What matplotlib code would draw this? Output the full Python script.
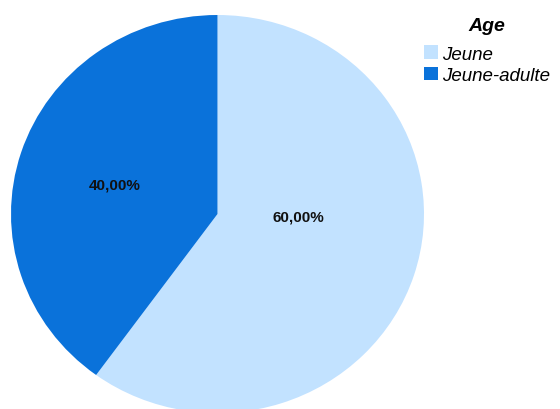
import matplotlib.pyplot as plt

# Share of each age group
categories = ["Jeune", "Jeune-adulte"]
shares = [60.0, 40.0]
colors = ["#C2E2FF", "#0A72DA"]

plt.rcParams["font.family"] = ["Liberation Sans", "DejaVu Sans"]

fig = plt.figure(figsize=(5.6, 4.1), dpi=100)
# slightly squashed pie, bottom runs just past the figure edge
ax = fig.add_axes([11 / 560, -4 / 410, 413 / 560, 398 / 410])

wedges, _ = ax.pie(shares, colors=colors, startangle=90, counterclock=False,
                   radius=1.0, wedgeprops=dict(linewidth=0))
ax.set_aspect("auto")
ax.set_xlim(-1, 1)
ax.set_ylim(-1, 1)

# percentage labels inside each wedge
label_pos = [(0.39, -0.015), (-0.50, 0.146)]
for (x, y), s in zip(label_pos, shares):
    ax.text(x, y, f"{s:.2f}%".replace(".", ","), ha="center", va="center",
            fontsize=11, fontweight="bold", color="#111111")

leg = fig.legend(wedges, categories, loc="upper left",
                 bbox_to_anchor=(424 / 560, 1 - 18 / 410), frameon=False,
                 handlelength=0.75, handleheight=0.75, handletextpad=0.2,
                 labelspacing=0.22, borderaxespad=0, borderpad=0,
                 prop=dict(size=13.5, style="italic"),
                 title="Age", title_fontproperties=dict(size=14, weight="bold", style="italic"))
leg._legend_box.sep = 8

fig.savefig("out.png", dpi=100)
